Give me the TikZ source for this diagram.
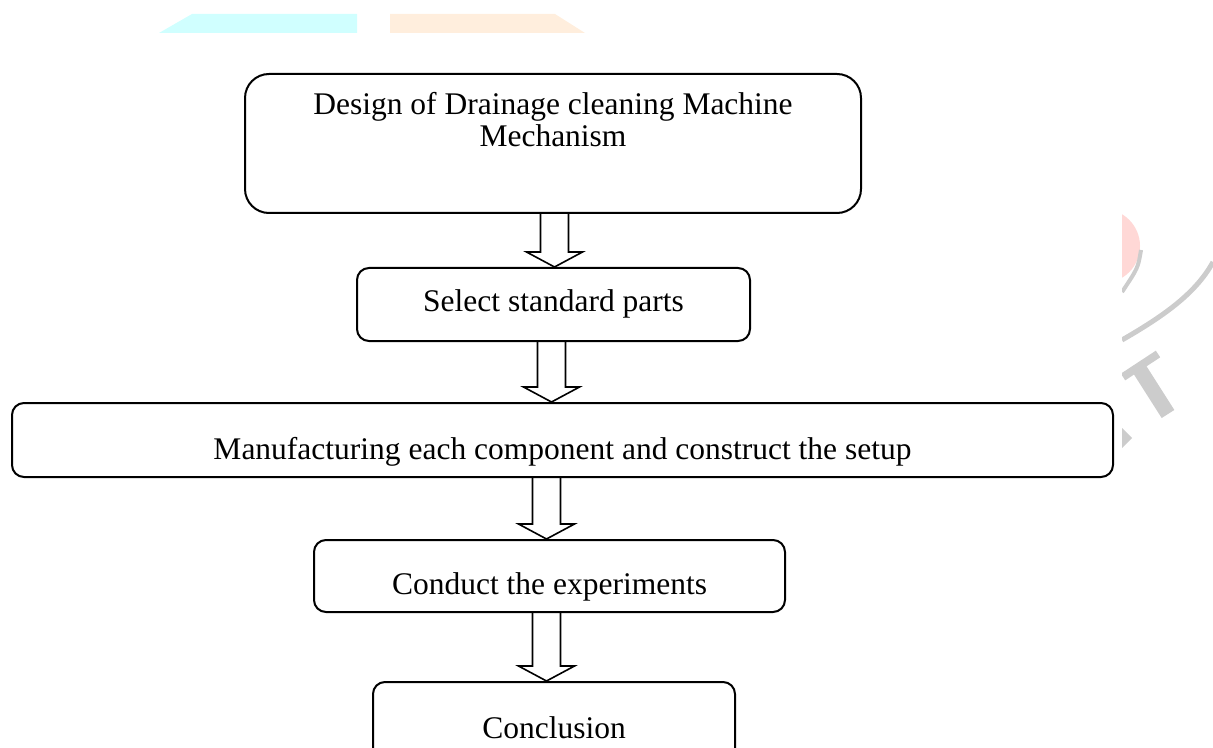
\documentclass[tikz,border=0pt]{standalone}
\usepackage{fontspec}
\setmainfont{Liberation Serif}
\usetikzlibrary{calc, positioning}
\tikzset{>=stealth}
\definecolor{wmcyan}{RGB}{208,255,255}
\definecolor{wmorange}{RGB}{255,238,221}
\definecolor{wmpink}{RGB}{255,216,214}
\definecolor{wmgray}{RGB}{204,204,204}
\tikzset{
  stepbox/.style={draw, line width=1pt, rounded corners=6pt, inner sep=0pt, font=\fontsize{15.75}{16}\selectfont},
  txt/.style 2 args={text height=#1, text depth=#2},
  blockarrow/.style={draw, line width=0.8pt, line join=miter},
}
% hollow block arrow: from node, to node, x position
\newcommand{\flowarrow}[3]{%
  \draw[blockarrow] ($(#3,0 |- #1.south)+(-7pt,0)$) -- ($(#3,0 |- #2.north)+(-7pt,7.5pt)$) -- ++(-7pt,0)
    -- (#3,0 |- #2.north) -- ++(14pt,7.5pt) -- ++(-7pt,0) -- ($(#3,0 |- #1.south)+(7pt,0)$);
}
\begin{document}
\begin{tikzpicture}[x=0.5pt, y=-0.5pt]
  \useasboundingbox (0,0) rectangle (1213,748);
  \clip (0,0) rectangle (1213,748);
  % watermark
  \fill[wmcyan] (159,33) -- (192,14) -- (357,14) -- (357,33) -- cycle;
  \fill[wmorange] (390,14) -- (555,14) -- (585,33) -- (390,33) -- cycle;
  \begin{scope}
    \clip (1122,0) rectangle (1213,748);
    \fill[wmpink] (1103,246) circle[radius=37];
    \draw[wmgray, line width=2pt] (1141,250) .. controls (1138,268) .. (1122,292);
    \draw[wmgray, line width=2.5pt] (1122,340) .. controls (1160,318) and (1195,295) .. (1213,262);
    \draw[wmgray, line width=4pt] (1123,377) -- (1158,354);
    \draw[wmgray, line width=7.5pt] (1140,370) -- (1168,414);
    \fill[wmgray] (1122,428) -- (1132,438) -- (1122,448) -- cycle;
  \end{scope}
  % flow chart
  \node[stepbox, rounded corners=12pt, minimum width=308pt, minimum height=69.5pt, align=center, txt={11pt}{7.5pt}] (design) at (553,143.5) {Design of Drainage cleaning Machine\\Mechanism};
  \node[stepbox, minimum width=196.5pt, minimum height=36.5pt, txt={11pt}{3.5pt}] (select) at (553.5,304.5) {Select standard parts};
  \node[stepbox, minimum width=550.5pt, minimum height=37pt, txt={22pt}{3pt}] (manuf) at (562.5,440) {Manufacturing each component and construct the setup};
  \node[stepbox, minimum width=235.5pt, minimum height=36pt, txt={21pt}{3pt}] (conduct) at (549.5,576) {Conduct the experiments};
  \node[stepbox, minimum width=181pt, minimum height=44pt, txt={15pt}{3pt}] (concl) at (554,726) {Conclusion};
  \flowarrow{design}{select}{554.5}
  \flowarrow{select}{manuf}{551.5}
  \flowarrow{manuf}{conduct}{546.5}
  \flowarrow{conduct}{concl}{546.5}
\end{tikzpicture}
\end{document}
